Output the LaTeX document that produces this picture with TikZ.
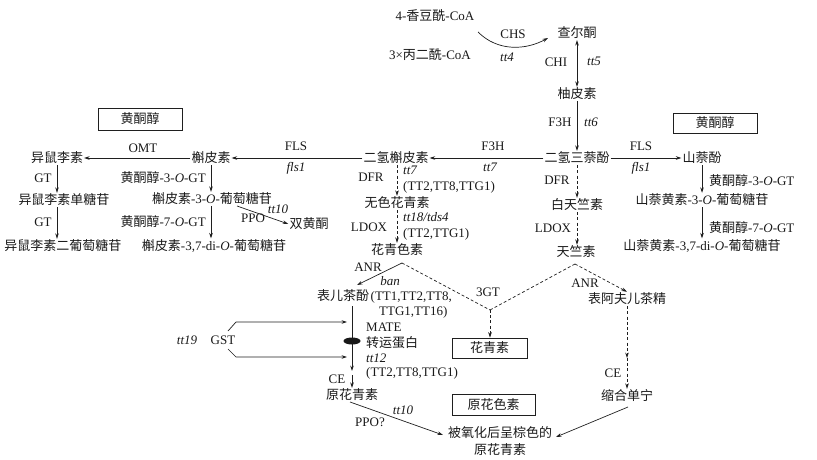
\documentclass[tikz,border=0pt]{standalone}
\usepackage{fontspec}
\setmainfont{Liberation Serif}
\newfontfamily\cjk{Noto Sans CJK SC}[Scale=1.0]
\usetikzlibrary{arrows.meta,shapes.geometric}
\newcommand\zh[1]{{\cjk #1}}
\begin{document}
\begin{tikzpicture}[x=1pt,y=-1pt,
  every node/.style={font=\fontsize{13}{15}\selectfont, inner sep=1pt, text=black!90},
  it/.style={font=\fontsize{13}{15}\selectfont\itshape},
  ln/.style={draw=black!88, line width=0.7pt},
  arr/.style={ln, -{Stealth[length=5.5pt,width=3.6pt]}},
  darr/.style={ln, {Stealth[length=5.5pt,width=3.6pt]}-{Stealth[length=5.5pt,width=3.6pt]}},
  dsh/.style={dash pattern=on 3pt off 2.2pt},
  boxed/.style={draw=black!88, line width=0.7pt, inner sep=0pt}
]
\useasboundingbox (0,0) rectangle (817,460);
% ---------- compounds ----------
\node (coum) at (435,16) {4-\zh{香豆酰}-CoA};
\node (malo) at (430,55) {3×\zh{丙二酰}-CoA};
\node (chal) at (577,33) {\zh{查尔酮}};
\node (nar) at (577,94) {\zh{柚皮素}};
\node (dhk) at (577,158) {\zh{二氢三萘酚}};
\node (kae) at (702,158) {\zh{山萘酚}};
\node (kae3) at (702,200) {\zh{山萘黄素}-3-\textit{O}-\zh{葡萄糖苷}};
\node (kae37) at (702,246) {\zh{山萘黄素}-3,7-di-\textit{O}-\zh{葡萄糖苷}};
\node (dhq) at (396,158) {\zh{二氢槲皮素}};
\node (que) at (211,158) {\zh{槲皮素}};
\node (que3) at (212,199) {\zh{槲皮素}-3-\textit{O}-\zh{葡萄糖苷}};
\node (que37) at (214,246) {\zh{槲皮素}-3,7-di-\textit{O}-\zh{葡萄糖苷}};
\node (iso) at (57,158) {\zh{异鼠李素}};
\node (iso1) at (64,200) {\zh{异鼠李素单糖苷}};
\node (iso2) at (63,246) {\zh{异鼠李素二葡萄糖苷}};
\node (biflav) at (309,224) {\zh{双黄酮}};
\node (leuco) at (397,203) {\zh{无色花青素}};
\node (cyan) at (397,250) {\zh{花青色素}};
\node (leucop) at (577,205) {\zh{白天竺素}};
\node (pel) at (576,252) {\zh{天竺素}};
\node[anchor=west] (epi) at (316,296) {\zh{表儿茶酚}\kern1.5pt(TT1,TT2,TT8,};
\node[anchor=west] (epib) at (378,312) {TTG1,TT16)};
\node (afz) at (627,299) {\zh{表阿夫儿茶精}};
\node (cond) at (627,396) {\zh{缩合单宁}};
\node (proa) at (352,395) {\zh{原花青素}};
\node[align=center, font=\fontsize{13}{17}\selectfont] (brown) at (500,441) {\zh{被氧化后呈棕色的}\\\zh{原花青素}};
% ---------- boxes ----------
\node[boxed, minimum width=84pt, minimum height=22pt] (boxL) at (140,119) {\zh{黄酮醇}};
\node[boxed, minimum width=84pt, minimum height=20pt] (boxR) at (715,123) {\zh{黄酮醇}};
\node[boxed, minimum width=75pt, minimum height=20pt] (boxC) at (489.5,348) {\zh{花青素}};
\node[boxed, minimum width=83pt, minimum height=21pt] (boxP) at (493.5,404.5) {\zh{原花色素}};
% ---------- labels ----------
\node (lCHS) at (513,34) {CHS};
\node[it] (ltt4) at (507,57) {tt4};
\node (lCHI) at (556,62) {CHI};
\node[it] (ltt5) at (594,61) {tt5};
\node (lF3Ha) at (560,122) {F3H};
\node[it] (ltt6) at (591,122) {tt6};
\node (lF3Hb) at (493,146) {F3H};
\node[it] (ltt7a) at (490,167) {tt7};
\node (lFLSa) at (641,146) {FLS};
\node[it] (lflsa) at (641,168) {fls1};
\node (lFLSb) at (296,146) {FLS};
\node[it] (lflsb) at (296,168) {fls1};
\node (lOMT) at (143,148) {OMT};
\node (lGTa) at (43,178) {GT};
\node (lGTb) at (43,222) {GT};
\node[anchor=east] (lq3) at (207,178) {\zh{黄酮醇}-3-\textit{O}-GT};
\node[anchor=east] (lq7) at (207,222) {\zh{黄酮醇}-7-\textit{O}-GT};
\node[anchor=west] (lk3) at (708,181) {\zh{黄酮醇}-3-\textit{O}-GT};
\node[anchor=west] (lk7) at (708,228) {\zh{黄酮醇}-7-\textit{O}-GT};
\node (lPPO) at (253,218) {PPO};
\node[it] (ltt10a) at (278,209) {tt10};
\node (lDFRa) at (371,177) {DFR};
\node[it, anchor=west] (ltt7b) at (402,170) {tt7};
\node[anchor=west] (lcx1) at (402,187) {(TT2,TT8,TTG1)};
\node (lLDOXa) at (369,227) {LDOX};
\node[it, anchor=west] (ltt18) at (402,217) {tt18/tds4};
\node[anchor=west] (lcx2) at (402,234) {(TT2,TTG1)};
\node (lDFRb) at (557,180) {DFR};
\node (lLDOXb) at (553,228) {LDOX};
\node (lANRa) at (368,267) {ANR};
\node[it] (lban) at (390,281) {ban};
\node (l3GT) at (488,292) {3GT};
\node (lANRb) at (585,283) {ANR};
\node (lCEb) at (613,373) {CE};
\node[it] (ltt19) at (187,340) {tt19};
\node (lGST) at (223,340) {GST};
\node[anchor=west] (lMATE) at (365,327) {MATE};
\node[anchor=west] (ltrans) at (365,343) {\zh{转运蛋白}};
\node[it, anchor=west] (ltt12) at (365,358) {tt12};
\node[anchor=west] (lcx3) at (365,373) {(TT2,TT8,TTG1)};
\node (lCEa) at (337,379) {CE};
\node[it] (ltt10b) at (403,410) {tt10};
\node (lPPOq) at (370,422) {PPO?};
% ---------- coordinates ----------
\coordinate (chsS) at (478,32);
\coordinate (chsE) at (548,38);
\coordinate (ppoS) at (237,206);
\coordinate (capex) at (402,263);
\coordinate (papex) at (575,264);
\coordinate (junc) at (490,310);
\coordinate (anrTip) at (357,285);
\coordinate (ceMid) at (627,358);
\coordinate (epiS) at (352,306);
\coordinate (epiE) at (352,371);
\coordinate (ceS) at (352,375);
\coordinate (gU1) at (228,331);
\coordinate (gU2) at (236,322);
\coordinate (gU3) at (347,322);
\coordinate (gL1) at (228,349);
\coordinate (gL2) at (236,357);
\coordinate (gL3) at (347,357);
\coordinate (condS) at (628,407);
\coordinate (brE) at (556,437);
\coordinate (proS) at (350,402);
\coordinate (brW) at (443,435);
% ---------- connectors ----------
\draw[arr] (chsS) .. controls (498,52) and (526,50) .. (chsE);
\draw[darr] (chal.south) -- (nar.north);
\draw[arr] (nar.south) -- (dhk.north);
\draw[arr] (dhk.west) -- (dhq.east);
\draw[arr] (dhk.east) -- (kae.west);
\draw[arr] (dhq.west) -- (que.east);
\draw[arr] (que.west) -- (iso.east);
\draw[arr] (iso.south) -- (iso.south |- iso1.north);
\draw[arr] (iso.south |- iso1.south) -- (iso.south |- iso2.north);
\draw[arr] (que.south) -- (que.south |- que3.north);
\draw[arr] (que.south |- que3.south) -- (que.south |- que37.north);
\draw[arr] (kae.south) -- (kae.south |- kae3.north);
\draw[arr] (kae.south |- kae3.south) -- (kae.south |- kae37.north);
\draw[arr] (ppoS) -- (biflav.west);
\draw[arr, dsh] (leuco.north |- dhq.south) -- (leuco.north);
\draw[arr, dsh] (leuco.south) -- (leuco.south |- cyan.north);
\draw[arr, dsh] (dhk.south) -- (dhk.south |- leucop.north);
\draw[arr, dsh] (dhk.south |- leucop.south) -- (dhk.south |- pel.north);
\draw[arr] (capex) -- (anrTip);
\draw[ln, dsh] (capex) -- (junc);
\draw[ln, dsh] (papex) -- (junc);
\draw[arr, dsh] (junc) -- (junc |- boxC.north);
\draw[arr, dsh] (papex) -- (afz.north);
\draw[arr, dsh] (afz.south) -- (ceMid);
\draw[arr, dsh] (ceMid) -- (cond.north);
\draw[arr] (condS) -- (brE);
\draw[arr] (proS) -- (brW);
\draw[arr] (epiS) -- (epiE);
\draw[arr] (ceS) -- (proa.north);
\fill[black!90] (352,341) ellipse (8.5pt and 3.5pt);
\draw[arr] (gU1) -- (gU2) -- (gU3);
\draw[arr] (gL1) -- (gL2) -- (gL3);
\end{tikzpicture}
\end{document}
